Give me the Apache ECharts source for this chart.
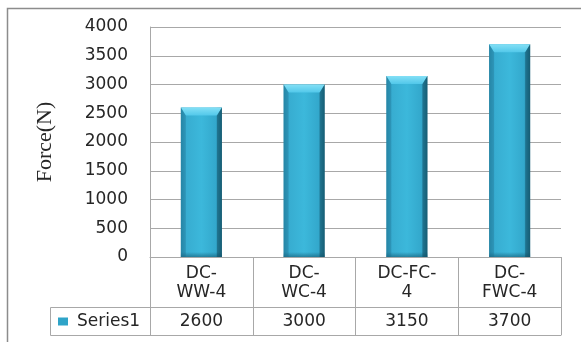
<!DOCTYPE html>
<html>
<head>
<meta charset="utf-8">
<script src="https://cdn.jsdelivr.net/npm/echarts@6/dist/echarts.min.js"></script>
<style>
  html, body { margin: 0; padding: 0; background: #fff; }
  #chart { width: 581px; height: 342px; }
</style>
</head>
<body>
<div id="chart"></div>
<script>
// Specimen names, their wrapped table headings, and measured force values
const categories = ['DC-WW-4', 'DC-WC-4', 'DC-FC-4', 'DC-FWC-4'];
const categoryLabels = ['DC-\nWW-4', 'DC-\nWC-4', 'DC-FC-\n4', 'DC-\nFWC-4'];
const seriesName = 'Series1';
const forceValues = [2600, 3000, 3150, 3700];
const yTicks = { min: 0, max: 4000, interval: 500 };

const GRID_LINE = '#a8a8a8';
const TEXT = '#262626';
const FONT = 'DejaVu Sans';

const chart = echarts.init(document.getElementById('chart'), null, { renderer: 'canvas' });

// Bevelled column: gradient body with a lighter chamfered top face
function renderColumn(params, api) {
  const top = api.coord([api.value(0), api.value(1)]);
  const base = api.coord([api.value(0), 0]);
  const band = api.size([1, 0])[0];
  const w = band * 0.4;
  const x0 = top[0] - w / 2;
  const x1 = top[0] + w / 2;
  const y0 = top[1];
  const y1 = base[1];
  const bev = 8;
  const side = 5;
  return {
    type: 'group',
    children: [
      {
        type: 'rect',
        shape: { x: x0, y: y0, width: w, height: y1 - y0 },
        style: {
          fill: new echarts.graphic.LinearGradient(0, 0, 1, 0, [
            { offset: 0, color: '#2b93b4' },
            { offset: 0.12, color: '#37acd0' },
            { offset: 0.5, color: '#3cb8db' },
            { offset: 0.85, color: '#33a8cc' },
            { offset: 1, color: '#1c6f89' }
          ])
        }
      },
      {
        type: 'rect',
        shape: { x: x0, y: y1 - 5, width: w, height: 5 },
        style: {
          fill: new echarts.graphic.LinearGradient(0, 0, 0, 1, [
            { offset: 0, color: 'rgba(20,90,115,0)' },
            { offset: 1, color: 'rgba(20,90,115,0.6)' }
          ])
        }
      },
      {
        type: 'polygon',
        shape: { points: [[x0, y0], [x1, y0], [x1 - side, y0 + bev], [x0 + side, y0 + bev]] },
        style: {
          fill: new echarts.graphic.LinearGradient(0, 0, 0, 1, [
            { offset: 0, color: '#84e0f6' },
            { offset: 1, color: '#52c8ea' }
          ])
        }
      },
      {
        type: 'polygon',
        shape: { points: [[x0, y0], [x0 + side, y0 + bev], [x0 + side, y1], [x0, y1]] },
        style: { fill: 'rgba(30,110,140,0.35)' }
      },
      {
        type: 'polygon',
        shape: { points: [[x1, y0], [x1 - side, y0 + bev], [x1 - side, y1], [x1, y1]] },
        style: { fill: 'rgba(15,70,90,0.45)' }
      }
    ]
  };
}

const option = {
  backgroundColor: '#ffffff',
  animation: false,
  grid: { left: 150, right: 20, top: 27, bottom: 85, containLabel: false },
  legend: {
    data: [{ name: seriesName, icon: 'rect' }],
    left: 58,
    top: 313,
    itemWidth: 10,
    itemHeight: 8,
    itemGap: 0,
    padding: 0,
    textStyle: { fontFamily: FONT, fontSize: 17, color: TEXT, padding: [0, 0, 0, 4] },
    itemStyle: { color: '#2fa4c8' }
  },
  xAxis: [
    {
      type: 'category',
      data: categories,
      position: 'bottom',
      axisLine: { show: true, lineStyle: { color: GRID_LINE, width: 1 } },
      axisTick: { show: true, interval: 0, length: 78, lineStyle: { color: GRID_LINE, width: 1 } },
      axisLabel: {
        interval: 0,
        margin: 7,
        fontFamily: FONT,
        fontSize: 17,
        lineHeight: 19,
        color: TEXT,
        formatter: (v, i) => categoryLabels[i]
      },
      splitLine: { show: false }
    },
    {
      type: 'category',
      data: categories,
      position: 'bottom',
      offset: 50,
      axisLine: { show: true, lineStyle: { color: GRID_LINE, width: 1 } },
      axisTick: { show: false },
      axisLabel: {
        interval: 0,
        margin: 6,
        fontFamily: FONT,
        fontSize: 17,
        lineHeight: 18,
        color: TEXT,
        formatter: (v, i) => String(forceValues[i])
      }
    },
    {
      type: 'category',
      data: categories,
      position: 'bottom',
      offset: 78,
      axisLine: { show: true, lineStyle: { color: GRID_LINE, width: 1 } },
      axisTick: { show: false },
      axisLabel: { show: false }
    }
  ],
  yAxis: {
    type: 'value',
    min: yTicks.min,
    max: yTicks.max,
    interval: yTicks.interval,
    name: 'Force(N)',
    nameLocation: 'middle',
    nameGap: 94,
    nameTextStyle: { fontFamily: 'Liberation Serif', fontSize: 22, color: TEXT },
    axisLine: { show: true, lineStyle: { color: GRID_LINE, width: 1 } },
    axisTick: { show: false },
    axisLabel: {
      margin: 22,
      fontFamily: FONT,
      fontSize: 17,
      color: TEXT,
      formatter: (v) => String(v)
    },
    splitLine: { show: true, lineStyle: { color: GRID_LINE, width: 1 } }
  },
  graphic: [
    // Outer chart frame
    {
      type: 'rect',
      shape: { x: 7.5, y: 8.5, width: 600, height: 400 },
      style: { fill: 'none', stroke: '#8c8c8c', lineWidth: 1.5 },
      silent: true
    },
    // Legend cell of the data table
    {
      type: 'rect',
      shape: { x: 50.5, y: 307.5, width: 100, height: 28 },
      style: { fill: 'none', stroke: GRID_LINE, lineWidth: 1 },
      silent: true
    }
  ],
  series: [
    {
      name: seriesName,
      type: 'custom',
      xAxisIndex: 0,
      renderItem: renderColumn,
      encode: { x: 0, y: 1 },
      itemStyle: { color: '#2fa4c8' },
      data: categories.map((c, i) => [i, forceValues[i]])
    }
  ]
};

chart.setOption(option);
</script>
</body>
</html>
